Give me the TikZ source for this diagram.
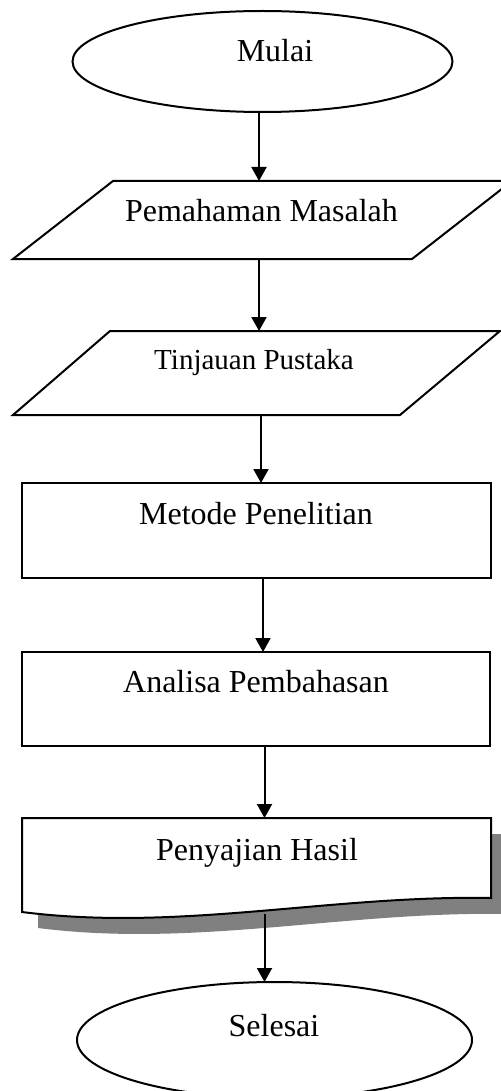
\documentclass[tikz,border=0pt]{standalone}
\usepackage{fontspec}
\setmainfont{Liberation Serif}
\usetikzlibrary{arrows.meta}
\definecolor{shadowgray}{HTML}{808080}
\begin{document}
\begin{tikzpicture}[x=0.5pt,y=-0.5pt,
  shapeline/.style={draw=black, line width=1pt, fill=white},
  lbl/.style={anchor=base, inner sep=0pt, font=\fontsize{16}{19}\selectfont},
  lblsmall/.style={anchor=base, inner sep=0pt, font=\fontsize{14.5}{17}\selectfont},
  arr/.style={draw=black, line width=1pt, -{Triangle[width=7.5pt,length=7pt]}}]
\useasboundingbox (0,0) rectangle (501,1091);

% shapes
\draw[shapeline] (262.5,61.5) ellipse [x radius=190, y radius=50.5];
\draw[shapeline] (13,259) -- (113,181) -- (512,181) -- (412,259) -- cycle;
\draw[shapeline] (13,415) -- (110,331) -- (500,331) -- (400,415) -- cycle;
\draw[shapeline] (22,483) rectangle (491,578);
\draw[shapeline] (22,652) rectangle (490,746);
% document shape with shadow
\fill[shadowgray] (38,834) -- (507,834) -- (507,914)
   .. controls (346,911) and (196,948) .. (38,928) -- cycle;
\draw[shapeline] (22,818) -- (491,818) -- (491,898)
   .. controls (330,895) and (180,932) .. (22,912) -- cycle;
\draw[shapeline] (274.5,1040) ellipse [x radius=197.5, y radius=58];

% labels
\node[lbl] (mulai) at (275,62) {Mulai};
\node[lbl] (paham) at (261.5,221) {Pemahaman Masalah};
\node[lblsmall] (tinjau) at (254,369) {Tinjauan Pustaka};
\node[lbl] (metode) at (256,524) {Metode Penelitian};
\node[lbl] (analisa) at (256,692) {Analisa Pembahasan};
\node[lbl] (saji) at (257,860) {Penyajian Hasil};
\node[lbl] (selesai) at (274,1036) {Selesai};

% connector endpoints
\coordinate (a1s) at (259,112);  \coordinate (a1e) at (259,181);
\coordinate (a2s) at (259,260);  \coordinate (a2e) at (259,331);
\coordinate (a3s) at (261,415);  \coordinate (a3e) at (261,483);
\coordinate (a4s) at (263,578);  \coordinate (a4e) at (263,652);
\coordinate (a5s) at (264.5,746); \coordinate (a5e) at (264.5,818);
\coordinate (a6s) at (264.5,914); \coordinate (a6e) at (264.5,982);

\draw[arr] (a1s) -- (a1e);
\draw[arr] (a2s) -- (a2e);
\draw[arr] (a3s) -- (a3e);
\draw[arr] (a4s) -- (a4e);
\draw[arr] (a5s) -- (a5e);
\draw[arr] (a6s) -- (a6e);
\end{tikzpicture}
\end{document}
